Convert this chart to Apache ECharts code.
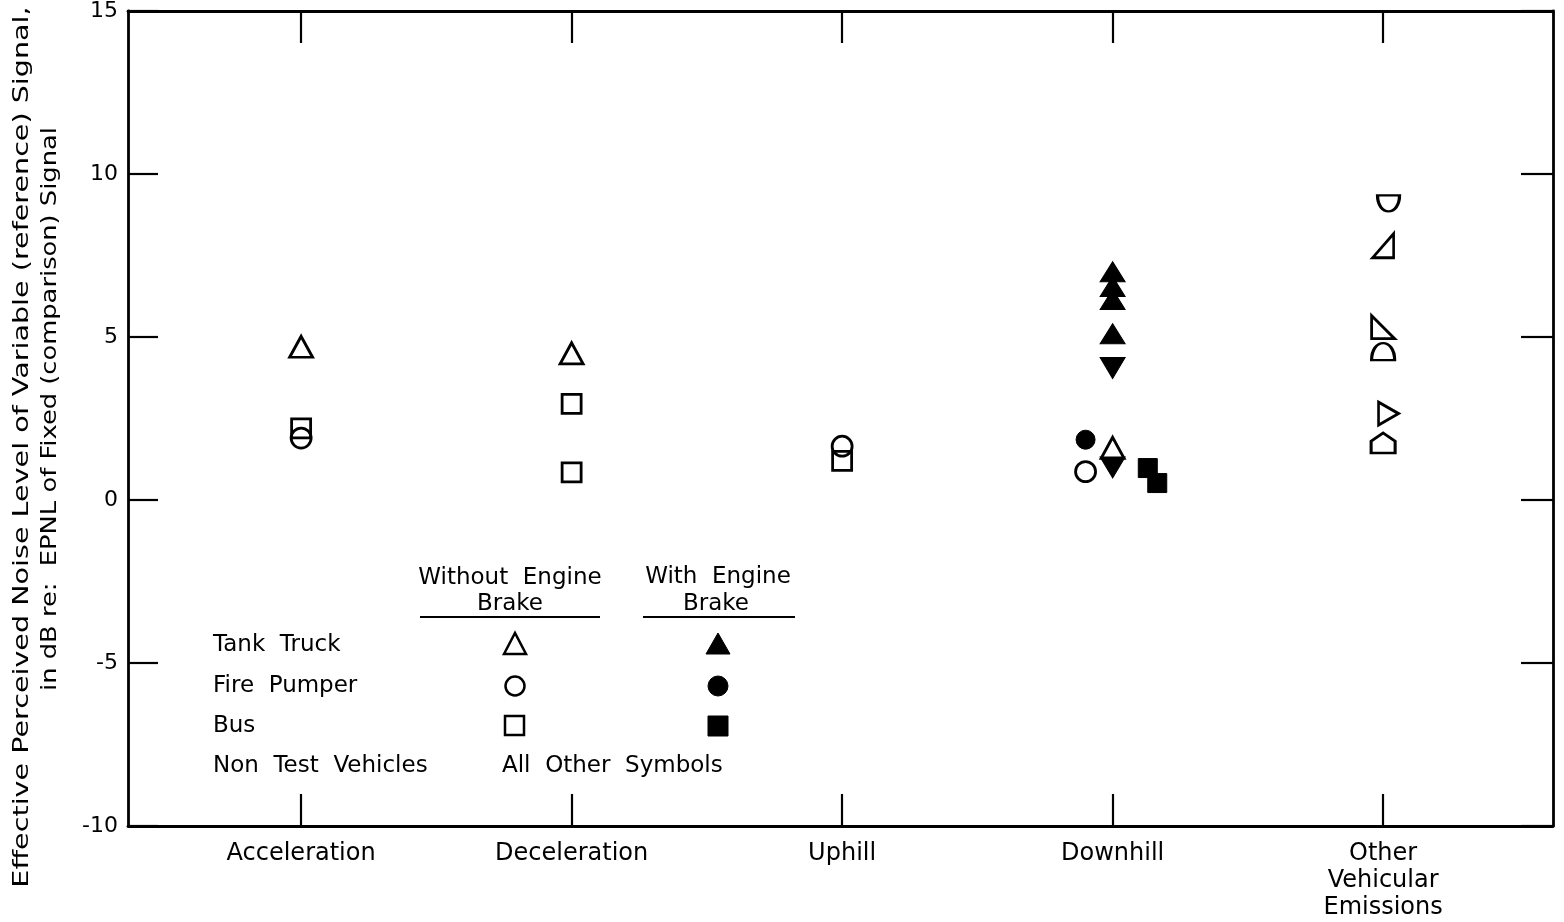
<!DOCTYPE html>
<html>
<head>
<meta charset="utf-8">
<script src="https://cdn.jsdelivr.net/npm/echarts@6/dist/echarts.min.js"></script>
<style>
html,body{margin:0;padding:0;background:#fff;}
#chart{width:1564px;height:922px;}
</style>
</head>
<body>
<div id="chart"></div>
<script>
// ---- data ----
const categories = ['Acceleration', 'Deceleration', 'Uphill', 'Downhill', 'Other\nVehicular\nEmissions'];
const categoryPositions = [1, 2, 3, 4, 5];
const yTicks = [-10, -5, 0, 5, 10, 15];

// [category position (with small horizontal offset as drawn), dB value]
const tankTruckOpen = [[1, 4.7], [2, 4.5], [4, 1.6]];
const tankTruckFilled = [[4, 7.0], [4, 6.55], [4, 6.15], [4, 5.1]];
const invertedFilled = [[4, 4.05], [4, 1.0]];
const firePumperOpen = [[1, 1.9], [3, 1.65], [3.9, 0.87]];
const firePumperFilled = [[3.9, 1.85]];
const busOpen = [[1, 2.2], [2, 2.95], [2, 0.85], [3, 1.2]];
const busFilled = [[4.13, 0.98], [4.165, 0.52]];
const otherHalfDown = [[5.02, 9.1]];
const otherWedgeRight = [[5.0, 7.8]];
const otherWedgeLeft = [[5.0, 5.3]];
const otherHalfUp = [[5.0, 4.55]];
const otherArrowRight = [[5.02, 2.65]];
const otherHouse = [[5.0, 1.75]];

// ---- chart ----
const FONT = 'DejaVu Sans';
const chart = echarts.init(document.getElementById('chart'), null, {renderer: 'canvas'});

const openStyle = {color: 'rgba(255,255,255,0)', borderColor: '#000', borderWidth: 2.8, opacity: 1};
const filledStyle = {color: '#000', borderColor: '#000', borderWidth: 1, opacity: 1};

function sc(name, data, symbol, size, style, rotate) {
  return {
    name: name, type: 'scatter', xAxisIndex: 0, yAxisIndex: 0,
    data: data, symbol: symbol, symbolSize: size, symbolRotate: rotate || 0,
    itemStyle: style, emphasis: {disabled: true}, silent: true, z: 5
  };
}

const axisLineStyle = {color: '#000', width: 2.8};
const tickStyle = {color: '#000', width: 2.2};

const xMin = 0.36, xMax = 5.628;

const option = {
  backgroundColor: '#fff',
  animation: false,
  grid: {left: 128, right: 11, top: 11, bottom: 96, containLabel: false},
  xAxis: [
    {
      type: 'value', min: xMin, max: xMax, position: 'bottom',
      axisLine: {show: true, onZero: false, lineStyle: axisLineStyle},
      axisTick: {show: true, inside: true, length: 32, customValues: categoryPositions, lineStyle: tickStyle},
      axisLabel: {
        show: true, customValues: categoryPositions, margin: 14,
        formatter: function (v) { return categories[Math.round(v) - 1] || ''; },
        fontFamily: FONT, fontSize: 24, color: '#000', lineHeight: 27, verticalAlign: 'top'
      },
      splitLine: {show: false}
    },
    {
      type: 'value', min: xMin, max: xMax, position: 'top',
      axisLine: {show: true, onZero: false, lineStyle: axisLineStyle},
      axisTick: {show: true, inside: true, length: 32, customValues: categoryPositions, lineStyle: tickStyle},
      axisLabel: {show: false},
      splitLine: {show: false}
    }
  ],
  yAxis: [
    {
      type: 'value', min: yTicks[0], max: yTicks[yTicks.length - 1], interval: 5, position: 'left',
      axisLine: {show: true, onZero: false, lineStyle: axisLineStyle},
      axisTick: {show: true, inside: true, length: 30, lineStyle: tickStyle},
      axisLabel: {show: true, margin: 10, fontFamily: FONT, fontSize: 22, color: '#000'},
      splitLine: {show: false}
    },
    {
      type: 'value', min: yTicks[0], max: yTicks[yTicks.length - 1], interval: 5, position: 'right',
      axisLine: {show: true, onZero: false, lineStyle: axisLineStyle},
      axisTick: {show: true, inside: true, length: 32, lineStyle: tickStyle},
      axisLabel: {show: false},
      splitLine: {show: false}
    }
  ],
  series: [
    sc('Tank Truck (without engine brake)', tankTruckOpen, 'triangle', [23, 21], openStyle),
    sc('Tank Truck (with engine brake)', tankTruckFilled, 'triangle', [25, 20], filledStyle),
    sc('Inverted (other)', invertedFilled, 'triangle', [25, 21], filledStyle, 180),
    sc('Fire Pumper (without engine brake)', firePumperOpen, 'circle', 20, openStyle),
    sc('Fire Pumper (with engine brake)', firePumperFilled, 'circle', 19, filledStyle),
    sc('Bus (without engine brake)', busOpen, 'rect', 19, openStyle),
    sc('Bus (with engine brake)', busFilled, 'rect', 19, filledStyle),
    sc('Other 1', otherHalfDown, 'path://M0 0 H20 C20 13.3 0 13.3 0 0 Z', [22, 16], openStyle),
    sc('Other 2', otherWedgeRight, 'path://M0 20 L16 0 L16 20 Z', [21, 24], openStyle),
    sc('Other 3', otherWedgeLeft, 'path://M0 0 L0 20 L18 20 Z', [23, 23], openStyle),
    sc('Other 4', otherHalfUp, 'path://M0 10 C0 -3.3 20 -3.3 20 10 Z', [23, 17], openStyle),
    sc('Other 5', otherArrowRight, 'path://M0 0 L18 9 L0 18 Z', [20, 23], openStyle),
    sc('Other 6', otherHouse, 'path://M10 0 L20 7 L20 17 L0 17 L0 7 Z', [24, 20], openStyle)
  ],
  graphic: [
    // Y axis title (two rotated lines)
    {type: 'text', x: 22, y: 447, rotation: Math.PI / 2, scaleX: 1.3,
      style: {text: 'Effective Perceived Noise Level of Variable (reference) Signal,', fontFamily: FONT, fontSize: 22,
        fill: '#000', align: 'center', verticalAlign: 'middle'}},
    {type: 'text', x: 50, y: 409, rotation: Math.PI / 2, scaleX: 1.17,
      style: {text: 'in dB re:  EPNL of Fixed (comparison) Signal', fontFamily: FONT, fontSize: 22,
        fill: '#000', align: 'center', verticalAlign: 'middle'}},
    // Legend headers
    {type: 'text', x: 510, y: 578, style: {text: 'Without  Engine', fontFamily: FONT, fontSize: 23, fill: '#000', align: 'center', verticalAlign: 'middle'}},
    {type: 'text', x: 510, y: 604, style: {text: 'Brake', fontFamily: FONT, fontSize: 23, fill: '#000', align: 'center', verticalAlign: 'middle'}},
    {type: 'line', shape: {x1: 420, y1: 617, x2: 600, y2: 617}, style: {stroke: '#000', lineWidth: 2.2}},
    {type: 'text', x: 718, y: 577, style: {text: 'With  Engine', fontFamily: FONT, fontSize: 23, fill: '#000', align: 'center', verticalAlign: 'middle'}},
    {type: 'text', x: 716, y: 604, style: {text: 'Brake', fontFamily: FONT, fontSize: 23, fill: '#000', align: 'center', verticalAlign: 'middle'}},
    {type: 'line', shape: {x1: 643, y1: 617, x2: 795, y2: 617}, style: {stroke: '#000', lineWidth: 2.2}},
    // Legend rows
    {type: 'text', x: 213, y: 645, style: {text: 'Tank  Truck', fontFamily: FONT, fontSize: 23, fill: '#000', verticalAlign: 'middle'}},
    {type: 'text', x: 213, y: 686, style: {text: 'Fire  Pumper', fontFamily: FONT, fontSize: 23, fill: '#000', verticalAlign: 'middle'}},
    {type: 'text', x: 213, y: 726, style: {text: 'Bus', fontFamily: FONT, fontSize: 23, fill: '#000', verticalAlign: 'middle'}},
    {type: 'text', x: 213, y: 766, style: {text: 'Non  Test  Vehicles', fontFamily: FONT, fontSize: 23, fill: '#000', verticalAlign: 'middle'}},
    {type: 'text', x: 502, y: 766, style: {text: 'All  Other  Symbols', fontFamily: FONT, fontSize: 23, fill: '#000', verticalAlign: 'middle'}},
    // Legend symbols
    {type: 'polygon', shape: {points: [[504, 654], [515, 633], [526, 654]]}, style: {fill: 'none', stroke: '#000', lineWidth: 2.5}},
    {type: 'polygon', shape: {points: [[706, 654], [718, 633], [730, 654]]}, style: {fill: '#000', stroke: '#000', lineWidth: 1}},
    {type: 'circle', shape: {cx: 515, cy: 686, r: 9.5}, style: {fill: 'none', stroke: '#000', lineWidth: 2.5}},
    {type: 'circle', shape: {cx: 718, cy: 686, r: 10}, style: {fill: '#000', stroke: '#000', lineWidth: 1}},
    {type: 'rect', shape: {x: 505, y: 716, width: 19, height: 19}, style: {fill: 'none', stroke: '#000', lineWidth: 2.5}},
    {type: 'rect', shape: {x: 708, y: 716, width: 20, height: 20}, style: {fill: '#000', stroke: '#000', lineWidth: 1}}
  ]
};

chart.setOption(option);
</script>
</body>
</html>
